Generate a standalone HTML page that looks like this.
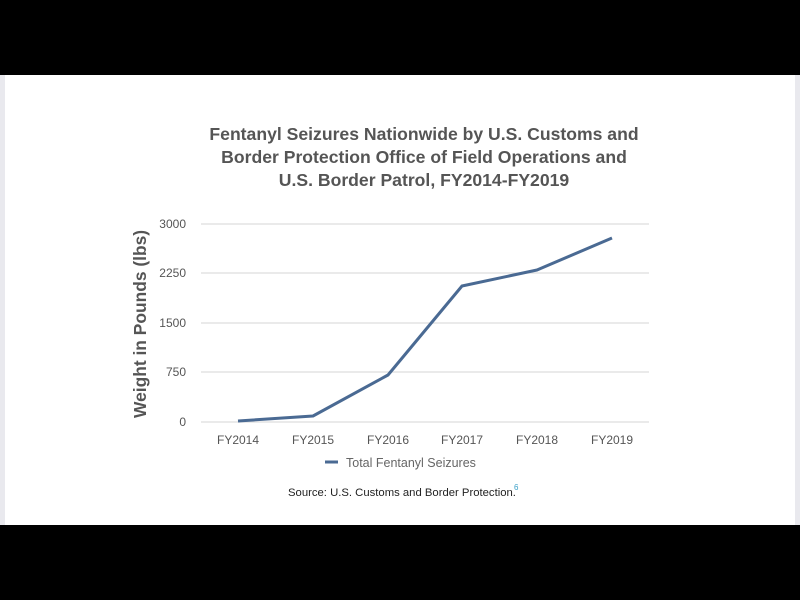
<!DOCTYPE html>
<html><head><style>
html,body{margin:0;padding:0;width:800px;height:600px;background:#000;overflow:hidden}
</style></head><body>
<svg width="800" height="600" xmlns="http://www.w3.org/2000/svg" font-family="Liberation Sans, sans-serif">
<rect x="0" y="0" width="800" height="600" fill="#000"/>
<rect x="0" y="75" width="800" height="450" fill="#e9e9ee"/>
<rect x="5" y="75" width="790" height="450" fill="#fff"/>
<g font-weight="bold" font-size="17.6" fill="#555" text-anchor="middle">
<text x="424" y="140">Fentanyl Seizures Nationwide by U.S. Customs and</text>
<text x="424" y="163">Border Protection Office of Field Operations and</text>
<text x="424" y="186">U.S. Border Patrol, FY2014-FY2019</text>
</g>
<g stroke="#ddd" stroke-width="1.2">
<line x1="201" y1="224" x2="649" y2="224"/>
<line x1="201" y1="273" x2="649" y2="273"/>
<line x1="201" y1="323" x2="649" y2="323"/>
<line x1="201" y1="372" x2="649" y2="372"/>
<line x1="201" y1="422" x2="649" y2="422"/>
</g>
<g font-size="12" fill="#555" text-anchor="end">
<text x="186" y="228">3000</text>
<text x="186" y="277">2250</text>
<text x="186" y="327">1500</text>
<text x="186" y="376">750</text>
<text x="186" y="426">0</text>
</g>
<g font-size="12" fill="#555" text-anchor="middle">
<text x="238" y="444">FY2014</text>
<text x="313" y="444">FY2015</text>
<text x="388" y="444">FY2016</text>
<text x="462" y="444">FY2017</text>
<text x="537" y="444">FY2018</text>
<text x="612" y="444">FY2019</text>
</g>
<text transform="translate(146,324) rotate(-90)" font-size="17.4" font-weight="bold" fill="#555" text-anchor="middle">Weight in Pounds (lbs)</text>
<polyline points="238,421 313,416 388,375 462,286 537,270 612,238" fill="none" stroke="#4a6a93" stroke-width="3" stroke-linejoin="round"/>
<line x1="325" y1="462" x2="338" y2="462" stroke="#4a6a93" stroke-width="3"/>
<text x="346" y="467" font-size="12.5" fill="#666">Total Fentanyl Seizures</text>
<text x="288" y="496" font-size="11.3" fill="#222">Source: U.S. Customs and Border Protection.</text>
<text x="514" y="490" font-size="8" fill="#3aa0c8">6</text>
</svg>
</body></html>
